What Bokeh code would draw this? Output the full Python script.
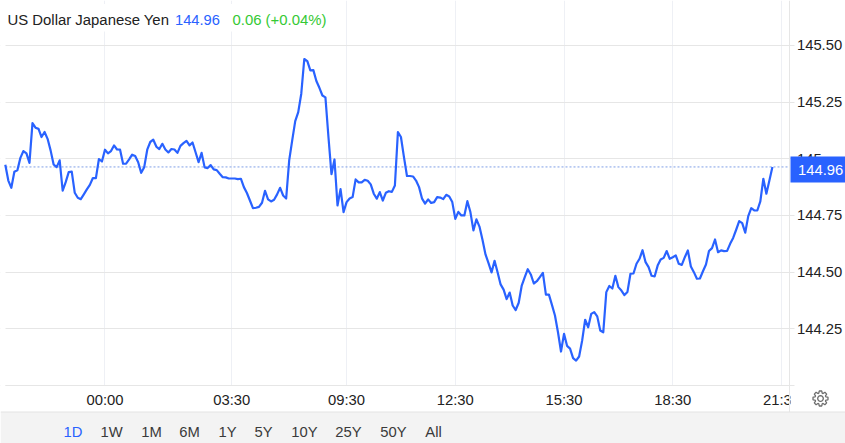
from bokeh.plotting import figure
from bokeh.models import (Range1d, LinearAxis, FixedTicker, Label, BoxAnnotation,
                          PolyAnnotation, Grid)
from bokeh.embed import file_html
from bokeh.resources import INLINE
import math

# 5-minute closes for one session, USD/JPY
price = [
144.974,144.904,144.872,144.943,144.949,145.004,145.034,145.024,144.982,145.157,
145.137,145.132,145.096,145.118,145.088,145.037,144.975,144.963,144.993,144.859,
144.897,144.941,144.943,144.850,144.828,144.822,144.843,144.865,144.885,144.915,
144.915,144.999,144.988,145.040,145.024,145.034,145.059,145.041,145.040,144.978,
144.979,144.997,145.018,145.012,144.985,144.938,144.963,145.040,145.074,145.084,
145.054,145.043,145.066,145.041,145.028,145.043,145.041,145.026,145.057,145.069,
145.079,145.059,145.072,145.029,144.985,145.026,144.962,144.959,144.972,144.953,
144.950,144.934,144.919,144.918,144.913,144.913,144.913,144.910,144.912,144.875,
144.849,144.816,144.782,144.784,144.788,144.806,144.859,144.821,144.812,144.819,
144.843,144.872,144.838,144.825,144.993,145.081,145.166,145.206,145.287,145.440,
145.431,145.390,145.391,145.343,145.313,145.279,145.271,145.096,144.932,144.997,
144.794,144.866,144.765,144.809,144.825,144.831,144.909,144.896,144.896,144.907,
144.903,144.887,144.846,144.824,144.853,144.816,144.850,144.857,144.854,144.882,
145.118,145.096,145.007,144.924,144.924,144.922,144.904,144.875,144.824,144.802,
144.821,144.805,144.809,144.831,144.829,144.822,144.841,144.834,144.809,144.735,
144.766,144.750,144.750,144.813,144.765,144.684,144.733,144.701,144.643,144.578,
144.540,144.499,144.550,144.500,144.446,144.423,144.381,144.410,144.353,144.333,
144.365,144.441,144.478,144.513,144.490,144.450,144.460,144.478,144.497,144.401,
144.401,144.356,144.309,144.235,144.150,144.228,144.175,144.163,144.121,144.110,
144.128,144.198,144.290,144.257,144.316,144.324,144.305,144.243,144.235,144.412,
144.439,144.428,144.484,144.434,144.419,144.399,144.413,144.493,144.494,144.537,
144.559,144.597,144.544,144.522,144.484,144.481,144.529,144.556,144.563,144.593,
144.559,144.566,144.574,144.537,144.532,144.566,144.596,144.525,144.500,144.471,
144.472,144.504,144.534,144.593,144.606,144.644,144.588,144.596,144.593,144.594,
144.625,144.651,144.687,144.725,144.716,144.674,144.747,144.782,144.772,144.772,
144.812,144.912,144.846,144.904,144.964]
bars = list(range(len(price)))

time_ticks = [33, 75, 113, 149, 185, 221, 257]
time_labels = ["00:00", "03:30", "09:30", "12:30", "15:30", "18:30", "21:30"]
price_ticks = [144.0, 144.25, 144.5, 144.75, 145.0, 145.25, 145.5]
price_labels = ["", "144.25", "144.50", "144.75", "145", "145.25", "145.50"]
ranges = ["1D", "1W", "1M", "6M", "1Y", "5Y", "10Y", "25Y", "50Y", "All"]
range_x = [72.5, 111, 151, 189, 227, 263, 304, 348, 393, 433]

W, H = 845, 443
FONT = "Liberation Sans"
FS = "14.8px"
BLUE = "#2962ff"
GREY = "#e6e6e6"
INK = "#222222"

# the frame fills the whole page; 3.02 px per bar, 226.8 px per yen
p = figure(width=W, height=H, output_backend="svg", toolbar_location=None,
           x_range=Range1d(-1.589, 278.2), y_range=Range1d(143.7444, 145.698),
           min_border_left=0, min_border_right=0, min_border_top=0, min_border_bottom=0,
           background_fill_color="white", border_fill_color="white", outline_line_color=None,
           x_axis_location=None, y_axis_location=None, margin=(0, 0, 0, 0))
p.center = []

X_AXIS_END = 259.8
xax = LinearAxis(ticker=FixedTicker(ticks=time_ticks),
                 major_label_overrides=dict(zip(time_ticks, time_labels)),
                 major_tick_line_color=None, major_tick_out=0, major_tick_in=0,
                 minor_tick_line_color=None,
                 axis_line_color=GREY, axis_line_width=1,
                 fixed_location=144.0, bounds=(0.07, X_AXIS_END),
                 major_label_text_font=FONT, major_label_text_font_size=FS,
                 major_label_text_color=INK, major_label_standoff=6)
p.add_layout(xax, "below")
yax = LinearAxis(ticker=FixedTicker(ticks=price_ticks),
                 major_label_overrides=dict(zip(price_ticks, price_labels)),
                 major_tick_line_color=GREY, major_tick_in=0, major_tick_out=5,
                 minor_tick_line_color=None,
                 axis_line_color=GREY, axis_line_width=1,
                 fixed_location=X_AXIS_END, bounds=(143.883, 145.698),
                 major_label_text_font=FONT, major_label_text_font_size=FS,
                 major_label_text_color=INK, major_label_standoff=2)
p.add_layout(yax, "right")
p.add_layout(Grid(dimension=0, ticker=xax.ticker, grid_line_color="#eef0f5", grid_line_width=1))
p.add_layout(Grid(dimension=1, ticker=yax.ticker, grid_line_color=GREY, grid_line_width=1))


def box(l, r, t, b, c, level="annotation"):
    p.add_layout(BoxAnnotation(left=l, right=r, top=H - t, bottom=H - b,
                               left_units="screen", right_units="screen",
                               top_units="screen", bottom_units="screen",
                               fill_color=c, fill_alpha=1, line_color=None, level=level,
                               editable=False))


def label(x, y, t, c=INK, align="left", size=FS):
    p.add_layout(Label(x=x, y=H - y, text=t, x_units="screen", y_units="screen",
                       text_color=c, text_font=FONT, text_font_size=size,
                       text_align=align, text_baseline="middle", level="annotation"))


# keep the grid inside the plotting area (the grid lies under these masks)
box(0, 5, 0, H, "white", "underlay")
box(790, W, 0, H, "white", "underlay")
box(0, W, 385.5, H, "white", "underlay")
box(5, 335, 3.5, 31, "white", "underlay")

p.line([0.0666, X_AXIS_END], [price[-1], price[-1]], line_color="#7f9fe6", line_width=1, line_dash="2 2")
p.line(bars, price, line_color=BLUE, line_width=2.2, line_join="round")

box(790, W, 386, 411, "white")        # cuts the last time label at the price axis
box(0, W, 411.5, H, "#f3f3f3")
box(0, W, 411, 412, "#e4e4e4")
box(790, W, 156, 182, BLUE)

label(7, 19, "US Dollar Japanese Yen", size="14.9px")
label(174.5, 19, "144.96", BLUE, size="14.7px")
label(232, 19, "0.06 (+0.04%)", "#35c935", size="14.9px")
label(797.5, 169.5, "144.96", "white")
for t, x in zip(ranges, range_x):
    label(x, 431.5, t, BLUE if t == "1D" else "#3a3a3a", "center")

# settings icon
cx, cy = 820, 398
teeth = 8
gx, gy = [], []
for i in range(teeth):
    a = 2 * math.pi * i / teeth
    for da, r in ((-0.30, 5.6), (-0.17, 7.6), (0.17, 7.6), (0.30, 5.6)):
        gx.append(cx + r * math.cos(a + da))
        gy.append(H - (cy + r * math.sin(a + da)))
p.add_layout(PolyAnnotation(xs=gx, ys=gy, xs_units="screen", ys_units="screen",
                            fill_alpha=0, line_color="#6e6e6e", line_alpha=1, line_width=1.3, level="annotation"))
ix = [cx + 2.8 * math.cos(2 * math.pi * i / 16) for i in range(16)]
iy = [H - (cy + 2.8 * math.sin(2 * math.pi * i / 16)) for i in range(16)]
p.add_layout(PolyAnnotation(xs=ix, ys=iy, xs_units="screen", ys_units="screen",
                            fill_alpha=0, line_color="#6e6e6e", line_alpha=1, line_width=1.3, level="annotation"))

open("out.html", "w").write(file_html(p, INLINE))
